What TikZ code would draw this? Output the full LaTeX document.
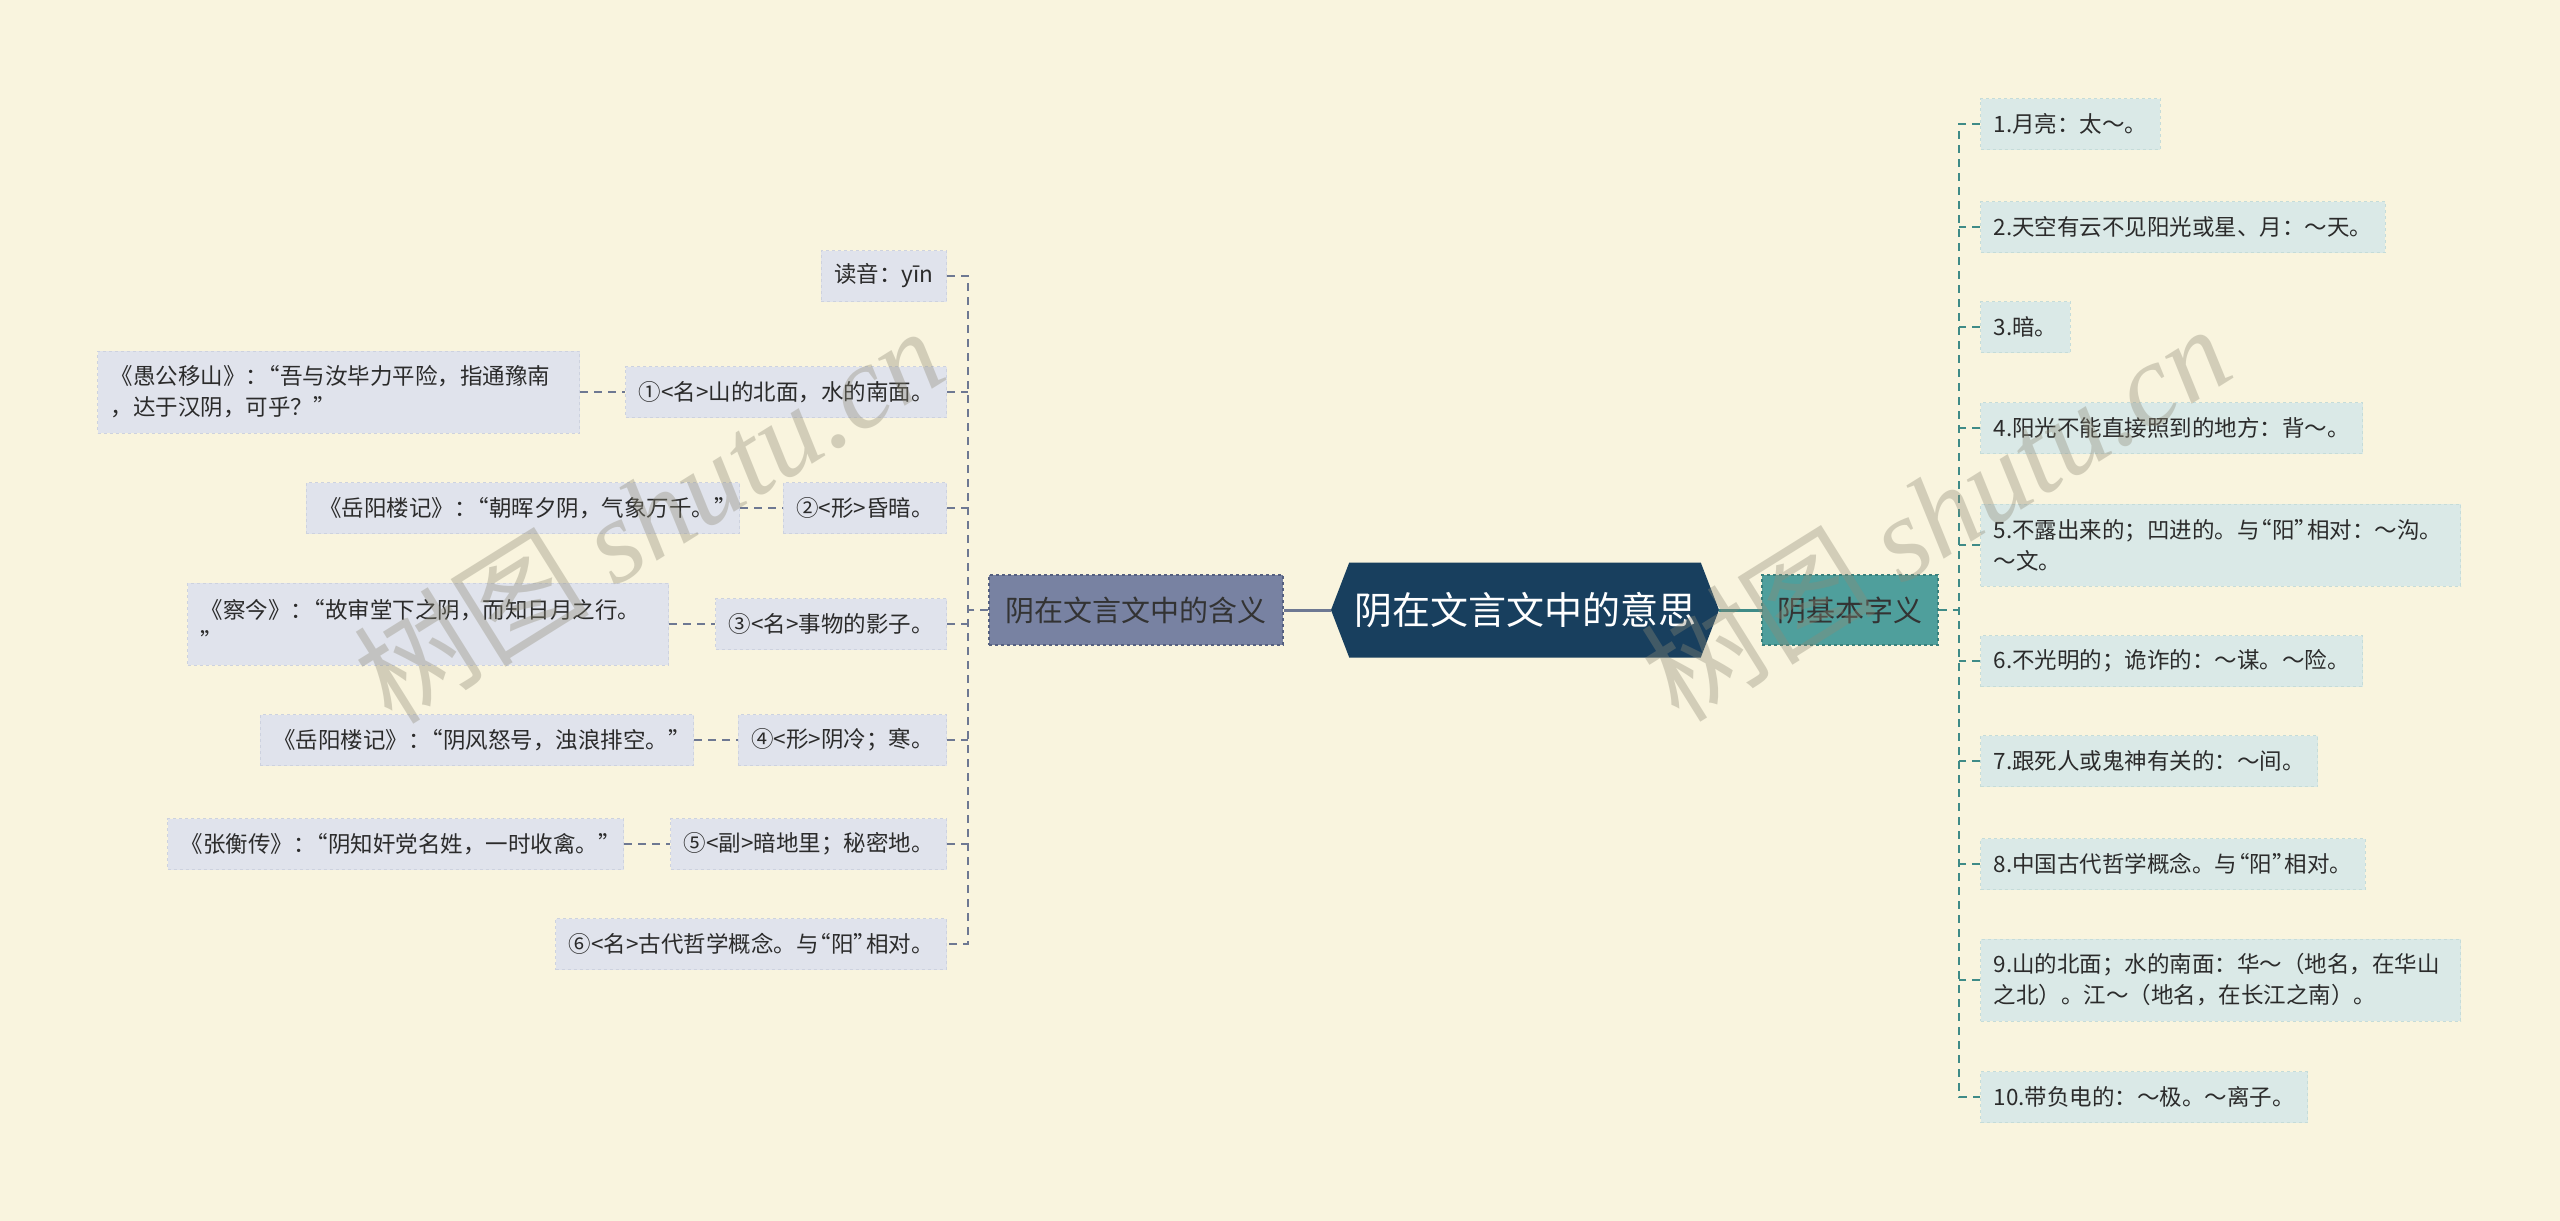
\documentclass[tikz,border=0pt]{standalone}
\usepackage{fontspec}
\setmainfont{Noto Sans CJK SC}
\newfontfamily\wmfont{Liberation Serif}
\usetikzlibrary{shapes.symbols}
\definecolor{bg}{HTML}{F9F4DE}
\definecolor{navy}{HTML}{183F5E}
\definecolor{lbfill}{HTML}{7882A2}
\definecolor{lbline}{HTML}{566080}
\definecolor{rbfill}{HTML}{4F9F9C}
\definecolor{rbline}{HTML}{3A807C}
\definecolor{lleaf}{HTML}{E0E3EC}
\definecolor{lleafline}{HTML}{CDD2DF}
\definecolor{rleaf}{HTML}{DAE9E7}
\definecolor{rleafline}{HTML}{C5DCD9}
\definecolor{lconncol}{HTML}{6E7892}
\definecolor{rconncol}{HTML}{3F8B87}
\definecolor{txt}{HTML}{2B2B2B}
\definecolor{wmcol}{HTML}{8E8A76}
\newcommand\myoq{\makebox[0.55em][r]{“}}
\newcommand\mycq{\makebox[0.55em][l]{”}}
\tikzset{
  leafbase/.style={dashed, line width=1pt, text=txt, font=\fontsize{22.5pt}{31pt}\selectfont,
    inner xsep=13pt, inner ysep=8pt, minimum height=51pt, align=left},
  leafL/.style={leafbase, fill=lleaf, draw=lleafline},
  leafR/.style={leafbase, fill=rleaf, draw=rleafline, anchor=west},
  quote/.style={leafL, anchor=east},
  lconn/.style={draw=lconncol, line width=1.8pt, dash pattern=on 8pt off 6pt},
  rconn/.style={draw=rconncol, line width=1.8pt, dash pattern=on 8pt off 6pt},
  branchbase/.style={dashed, line width=1.5pt, font=\fontsize{29pt}{34pt}\selectfont,
    minimum height=70pt, inner xsep=10pt},
  wm/.style={text=wmcol, opacity=0.36, font=\fontsize{118pt}{125pt}\selectfont}
}
\begin{document}
\begin{tikzpicture}[x=1pt,y=-1pt]
\fill[bg] (0,0) rectangle (2560,1221);
\useasboundingbox (0,0) rectangle (2560,1221);

% root
\node[signal, signal to=west and east, signal pointer angle=138, fill=navy, text=white,
  font=\fontsize{38pt}{44pt}\selectfont, minimum width=388pt, minimum height=95pt, inner xsep=4pt]
  (root) at (1525,610) {阴在文言文中的意思};

% branches
\node[branchbase, fill=lbfill, draw=lbline, text=black!80, minimum width=294pt] (lb) at (1136,610) {阴在文言文中的含义};
\node[branchbase, fill=rbfill, draw=rbline, text=black!80, minimum width=176pt] (rb) at (1850,610) {阴基本字义};

\draw[draw=lconncol, line width=3pt] (root.west) -- (lb.east);
\draw[draw=rconncol, line width=3pt] (root.east) -- (rb.west);

% left leaves
\node[leafL, anchor=east] (l0) at (947,276) {读音：yīn};
\node[leafL, anchor=east] (l1) at (947,392) {①<名>山的北面，水的南面。};
\node[leafL, anchor=east] (l2) at (947,508) {②<形>昏暗。};
\node[leafL, anchor=east] (l3) at (947,624) {③<名>事物的影子。};
\node[leafL, anchor=east] (l4) at (947,740) {④<形>阴冷；寒。};
\node[leafL, anchor=east] (l5) at (947,844) {⑤<副>暗地里；秘密地。};
\node[leafL, anchor=east] (l6) at (947,944) {⑥<名>古代哲学概念。与\myoq 阳\mycq 相对。};

% quotes
\node[quote, minimum height=82pt, text width=456pt] (q1) at (580,392) {《愚公移山》：\myoq 吾与汝毕力平险，指通豫南\\，达于汉阴，可乎？\mycq};
\node[quote] (q2) at (740,508) {《岳阳楼记》：\myoq 朝晖夕阴，气象万千。\mycq};
\node[quote, minimum height=82pt, text width=455pt] (q3) at (669,624) {《察今》：\myoq 故审堂下之阴，而知日月之行。\\\mycq};
\node[quote] (q4) at (694,740) {《岳阳楼记》：\myoq 阴风怒号，浊浪排空。\mycq};
\node[quote] (q5) at (624,844) {《张衡传》：\myoq 阴知奸党名姓，一时收禽。\mycq};

% left connectors
\coordinate (ltrunk) at (968,610);
\draw[lconn] (lb.west) -- (ltrunk);
\draw[lconn] (l0.east) -- (l0.east -| ltrunk) -- (l6.east -| ltrunk) -- (l6.east);
\foreach \n in {l1,l2,l3,l4,l5} \draw[lconn] (\n.east) -- (\n.east -| ltrunk);
\draw[lconn] (q1.east) -- (l1.west);
\draw[lconn] (q2.east) -- (l2.west);
\draw[lconn] (q3.east) -- (l3.west);
\draw[lconn] (q4.east) -- (l4.west);
\draw[lconn] (q5.east) -- (l5.west);

% right leaves
\node[leafR] (r1) at (1980,124) {1.月亮：太～。};
\node[leafR] (r2) at (1980,227) {2.天空有云不见阳光或星、月：～天。};
\node[leafR] (r3) at (1980,327) {3.暗。};
\node[leafR] (r4) at (1980,428) {4.阳光不能直接照到的地方：背～。};
\node[leafR, minimum height=82pt, text width=454pt] (r5) at (1980,545) {5.不露出来的；凹进的。与\myoq 阳\mycq 相对：～沟。\\～文。};
\node[leafR] (r6) at (1980,661) {6.不光明的；诡诈的：～谋。～险。};
\node[leafR] (r7) at (1980,761) {7.跟死人或鬼神有关的：～间。};
\node[leafR] (r8) at (1980,864) {8.中国古代哲学概念。与\myoq 阳\mycq 相对。};
\node[leafR, minimum height=82pt, text width=454pt] (r9) at (1980,980) {9.山的北面；水的南面：华～（地名，在华山\\之北）。江～（地名，在长江之南）。};
\node[leafR] (r10) at (1980,1097) {10.带负电的：～极。～离子。};

% right connectors
\coordinate (rtrunk) at (1959,610);
\draw[rconn] (rb.east) -- (rtrunk);
\draw[rconn] (r1.west) -- (r1.west -| rtrunk) -- (r10.west -| rtrunk) -- (r10.west);
\foreach \n in {r2,r3,r4,r5,r6,r7,r8,r9} \draw[rconn] (\n.west) -- (\n.west -| rtrunk);

% watermarks
\node[wm, rotate=32] (wm1) at (648,514) {树图 {\wmfont\itshape shutu.cn}};
\node[wm, rotate=32] (wm2) at (1935,512) {树图 {\wmfont\itshape shutu.cn}};
\end{tikzpicture}
\end{document}
